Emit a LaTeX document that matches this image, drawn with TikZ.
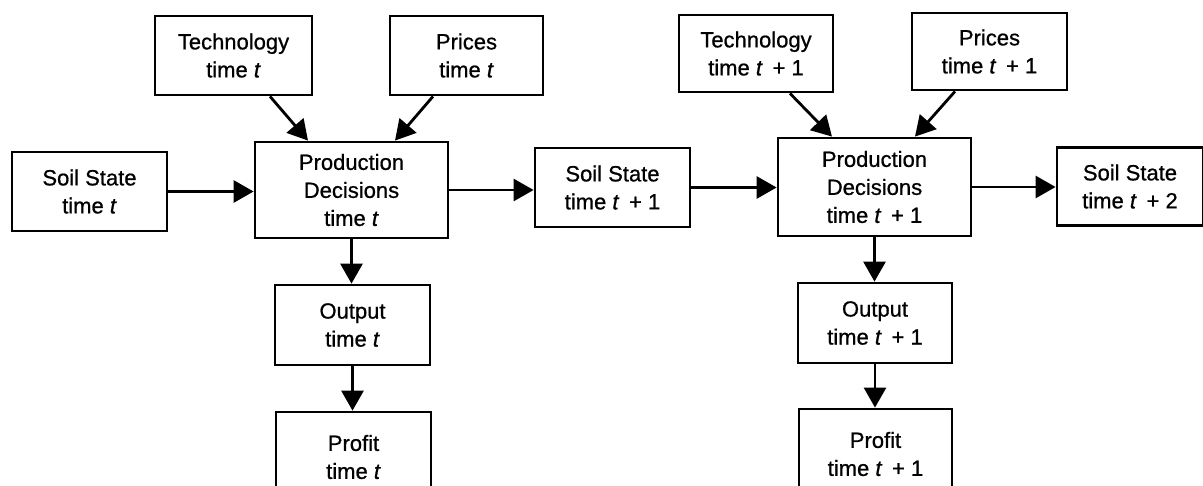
\documentclass[tikz,border=0pt]{standalone}
\usepackage{fontspec}
\setmainfont{Liberation Sans}[BoldFont={Liberation Sans}, BoldFeatures={FakeBold=0.8},
  BoldItalicFont={Liberation Sans Italic}, BoldItalicFeatures={FakeBold=0.8}]
\usetikzlibrary{arrows.meta}
\begin{document}
\begin{tikzpicture}[x=1pt,y=1pt,
  box/.style={draw, line width=2.8pt, align=center, inner sep=0pt,
    font=\fontsize{22pt}{28pt}\selectfont\bfseries},
  conn/.style={line width=2.8pt, -{Triangle[length=20pt,width=22pt]}}]
\useasboundingbox (0,0) rectangle (1203,-485);
\clip (0,0) rectangle (1203,-485);
% top row
\node[box, minimum width=157pt, minimum height=79pt] (techA) at (233.5,-55.5) {Technology\\time \textit{t}};
\node[box, minimum width=153pt, minimum height=79pt] (pricesA) at (466.5,-55.5) {Prices\\time \textit{t}};
\node[box, minimum width=154pt, minimum height=77pt] (techB) at (756,-53.5) {Technology\\time \textit{t} \,+ 1};
\node[box, minimum width=155pt, minimum height=77pt] (pricesB) at (989.5,-51.5) {Prices\\time \textit{t} \,+ 1};
% middle row
\node[box, minimum width=155pt, minimum height=79pt] (soilA) at (89.5,-191.5) {Soil State\\time \textit{t}};
\node[box, minimum width=193pt, minimum height=96pt] (pdA) at (351.5,-190) {Production\\Decisions\\time \textit{t}};
\node[box, minimum width=155pt, minimum height=79pt] (soilB) at (612.5,-187.5) {Soil State\\time \textit{t} \,+ 1};
\node[box, minimum width=193pt, minimum height=98pt] (pdB) at (874.5,-187) {Production\\Decisions\\time \textit{t} \,+ 1};
\node[box, minimum width=146pt, minimum height=78pt] (soilC) at (1130,-186.5) {Soil State\\time \textit{t} \,+ 2};
% lower rows
\node[box, minimum width=155pt, minimum height=80pt] (outA) at (352.5,-325) {Output\\time \textit{t}};
\node[box, minimum width=155pt, minimum height=90pt] (profA) at (353.5,-457) {Profit\\time \textit{t}};
\node[box, minimum width=154pt, minimum height=80pt] (outB) at (875,-323) {Output\\time \textit{t} \,+ 1};
\node[box, minimum width=153pt, minimum height=90pt] (profB) at (875.5,-454) {Profit\\time \textit{t} \,+ 1};
% connectors
\draw[conn] ([xshift=36.5pt]techA.south) -- ([xshift=-43.5pt]pdA.north);
\draw[conn] ([xshift=-33.5pt]pricesA.south) -- ([xshift=43.5pt]pdA.north);
\draw[conn] ([xshift=34pt]techB.south) -- ([xshift=-42.5pt]pdB.north);
\draw[conn] ([xshift=-34.5pt]pricesB.south) -- ([xshift=40.5pt]pdB.north);
\draw[conn] (soilA.east) -- (soilA.east -| pdA.west);
\draw[conn] (pdA.east) -- (pdA.east -| soilB.west);
\draw[conn] (soilB.east) -- (soilB.east -| pdB.west);
\draw[conn] (pdB.east) -- (pdB.east -| soilC.west);
\draw[conn] (pdA.south) -- (pdA.south |- outA.north);
\draw[conn] (outA.south) -- (outA.south |- profA.north);
\draw[conn] (pdB.south) -- (pdB.south |- outB.north);
\draw[conn] (outB.south) -- (outB.south |- profB.north);
\end{tikzpicture}
\end{document}
